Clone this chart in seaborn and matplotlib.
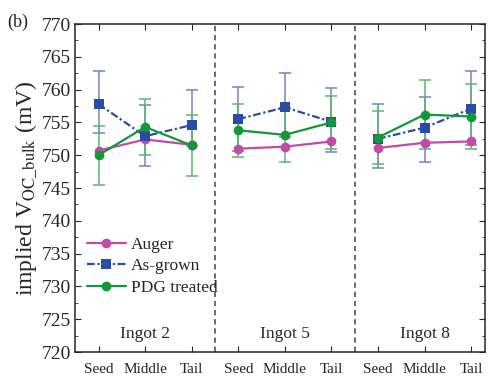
import numpy as np
import pandas as pd
import matplotlib
matplotlib.use("Agg")
import matplotlib.pyplot as plt
import seaborn as sns

positions = ["Seed", "Middle", "Tail"]
ingots = ["Ingot 2", "Ingot 5", "Ingot 8"]

auger = [750.7, 752.4, 751.6, 751.0, 751.3, 752.1, 751.1, 751.9, 752.1]
as_grown = [757.8, 752.9, 754.6, 755.5, 757.3, 755.1, 752.5, 754.2, 757.1]
as_grown_lo = [4.4, 4.5, 3.2, 4.9, 4.5, 4.6, 4.5, 5.3, 5.5]
as_grown_hi = [5.0, 4.7, 5.3, 4.9, 5.3, 5.1, 5.3, 4.6, 5.7]
pdg = [750.0, 754.3, 751.5, 753.8, 753.1, 755.0, 752.7, 756.2, 755.9]
pdg_err = [4.5, 4.3, 4.6, 4.0, 4.1, 4.1, 4.1, 5.3, 4.9]

colors = {"Auger": "#c24aa8", "As-grown": "#2a4ba6", "PDG treated": "#16963a"}
err_colors = {"As-grown": "#6f86c8", "PDG treated": "#5cb86a"}


def build_frame():
    rows = []
    for name, vals in [("Auger", auger), ("As-grown", as_grown), ("PDG treated", pdg)]:
        for i, v in enumerate(vals):
            rows.append({"x": i + 1, "value": v, "series": name,
                         "ingot": ingots[i // 3]})
    return pd.DataFrame(rows)


def main():
    sns.set_style("ticks")
    plt.rcParams["font.family"] = ["Liberation Serif", "DejaVu Serif"]
    plt.rcParams["mathtext.fontset"] = "stix"

    df = build_frame()
    fig, ax = plt.subplots(figsize=(4.95, 3.81), dpi=100)
    fig.subplots_adjust(left=0.152, right=0.98, top=0.937, bottom=0.076)

    xs = np.arange(1, 10)
    ax.errorbar(xs, as_grown, yerr=[as_grown_lo, as_grown_hi], fmt="none",
                ecolor=err_colors["As-grown"], elinewidth=1.1, capsize=4, capthick=1.1, zorder=2)
    ax.errorbar(xs, pdg, yerr=pdg_err, fmt="none",
                ecolor=err_colors["PDG treated"], elinewidth=1.1, capsize=4, capthick=1.1, zorder=2)

    sns.lineplot(data=df, x="x", y="value", hue="series", style="series",
                 units="ingot", estimator=None, palette=colors,
                 markers={"Auger": "o", "As-grown": "s", "PDG treated": "o"},
                 dashes={"Auger": "", "As-grown": (3.5, 1.2, 1, 1.2), "PDG treated": ""},
                 markersize=7, markeredgewidth=0, linewidth=1.6, ax=ax, zorder=3)

    for xd in [3.5, 6.5]:
        ax.axvline(xd, color="#444444", linestyle=(0, (3.5, 2.5)), linewidth=1.1, zorder=1)

    for k, name in enumerate(ingots):
        ax.text(3 * k + 2, 721.5, name, ha="center", va="bottom", fontsize=12.5)

    ax.set_xlim(0.5, 9.3)
    ax.set_ylim(720, 770)
    ax.set_xticks(xs)
    ax.set_xticklabels(positions * 3, fontsize=11)
    ax.set_yticks(np.arange(720, 771, 5))
    ax.set_yticks(np.arange(722.5, 770, 5), minor=True)
    ax.tick_params(axis="y", labelsize=14, pad=3)
    ax.tick_params(which="both", direction="in", top=True, right=True)
    ax.tick_params(axis="x", which="major", length=4, pad=8)
    ax.tick_params(axis="y", which="major", length=4)
    ax.tick_params(axis="y", which="minor", length=2)
    ax.set_xlabel("")
    ax.set_ylabel(r"implied V$_{\mathrm{OC\_bulk}}$ (mV)", fontsize=17, labelpad=1)
    for s in ax.spines.values():
        s.set_linewidth(1.1)

    handles, labels = ax.get_legend_handles_labels()
    ax.legend(handles, labels, loc="lower left", bbox_to_anchor=(0.0, 0.135),
              frameon=False, fontsize=12.5, handlelength=2.2, handletextpad=0.3,
              labelspacing=0.3, borderaxespad=0.3)

    fig.text(0.015, 0.93, "(b)", fontsize=13)
    fig.savefig("out.png", dpi=100)
    plt.close()


if __name__ == "__main__":
    main()
